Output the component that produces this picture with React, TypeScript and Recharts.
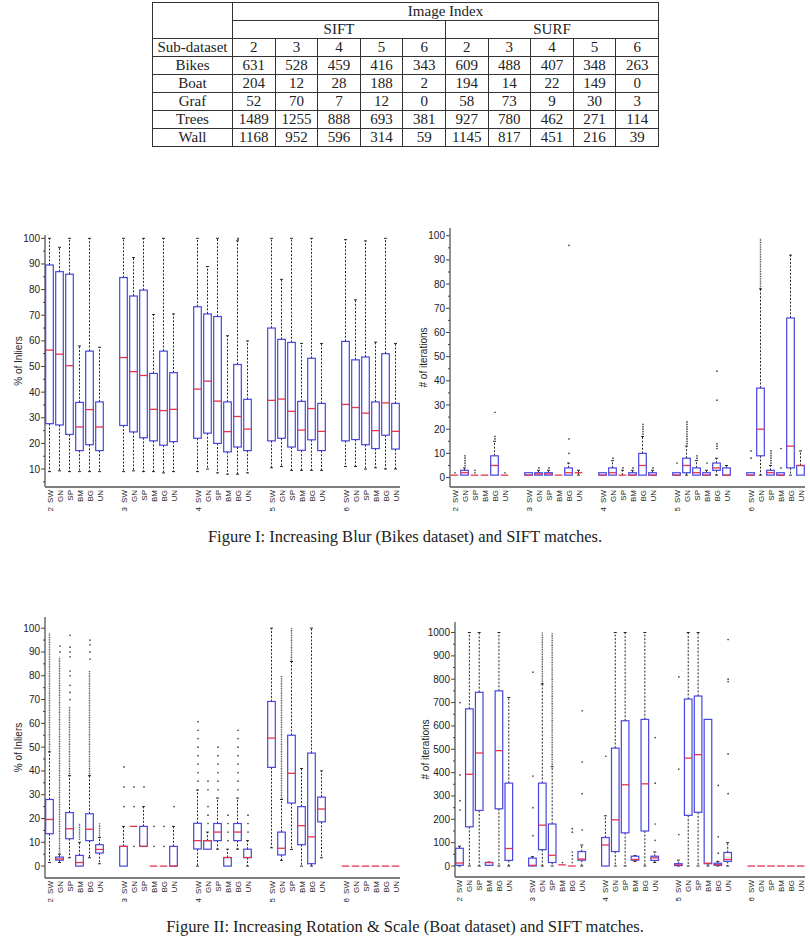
import React from 'react';
import { ComposedChart, Bar, Scatter, XAxis, YAxis, Label } from 'recharts';

const SANS = '"Liberation Sans", Arial, sans-serif';
const SERIF = '"Liberation Serif", "Times New Roman", serif';
const BLUE = '#4646e0';
const RED = '#e5344e';

// categories
const methods = ['SW', 'GN', 'SP', 'BM', 'BG', 'UN'];
const imageIndex = ['2', '3', '4', '5', '6'];

// table of matches per sub-dataset
const subDatasets = ['Bikes', 'Boat', 'Graf', 'Trees', 'Wall'];
const siftMatches = [
  [631, 528, 459, 416, 343],
  [204, 12, 28, 188, 2],
  [52, 70, 7, 12, 0],
  [1489, 1255, 888, 693, 381],
  [1168, 952, 596, 314, 59],
];
const surfMatches = [
  [609, 488, 407, 348, 263],
  [194, 14, 22, 149, 0],
  [58, 73, 9, 30, 3],
  [927, 780, 462, 271, 114],
  [1145, 817, 451, 216, 39],
];

// box stats: [whisker low, q1, median, q3, whisker high], 6 methods per image index
const blurInliers = [
  [9, 27.7, 56.4, 89.6, 100], [9.3, 27.2, 54.8, 87, 96.5], [9, 23.5, 50.3, 86, 100],
  [9, 17.2, 26.4, 36, 58], [9, 19.5, 33.2, 56, 100], [9, 17.2, 26.4, 36.2, 57.5],
  [9, 27, 53.5, 84.7, 100], [9.3, 24.5, 48, 77.5, 92.5], [9, 22.2, 46.5, 79.8, 100],
  [9, 21, 33.3, 47.3, 70.3], [8.5, 19.3, 32.8, 56, 100], [9, 20.7, 33.3, 47.6, 70.5],
  [9, 22, 41.2, 73.3, 100], [10, 24, 44.3, 70.5, 89], [8.5, 20, 36.5, 69.5, 100],
  [8, 16.7, 24.6, 36.2, 62], [8, 18.6, 30.5, 50.8, 99], [8.5, 17.2, 25.6, 37.2, 60],
  [10.5, 21, 36.8, 65, 100], [11, 22, 37.3, 60.6, 84], [9.5, 18.6, 32.5, 59.4, 100],
  [9.5, 17.3, 25.2, 36.4, 59], [9.5, 21.4, 33.6, 53.2, 100], [9.5, 17.2, 24.7, 35.6, 59],
  [11, 21, 35.2, 59.8, 99.5], [11, 21.5, 34, 52.6, 76], [10, 19.5, 31.8, 53.7, 99],
  [10.5, 18, 25, 36.2, 59.5], [10, 23.2, 35.8, 55, 100], [10, 17.8, 24.7, 35.6, 59],
];
const blurInliersOut = [[2, 4, 99.6], [2, 4, 100]];
const blurInliersDense: number[][] = [];

const blurIters = [
  [1, 1, 1, 1, 1], [1, 1, 2, 3, 4], [1, 1, 1, 1, 1], [1, 1, 1, 1, 1], [1, 1, 5, 9, 15], [1, 1, 1, 1, 1],
  [1, 1, 1, 2, 2], [1, 1, 1.5, 2, 3], [1, 1, 1.5, 2, 3], [1, 1, 1, 1, 1], [1, 1, 2, 4, 6], [1, 2, 2, 2, 3],
  [1, 1, 1, 2, 2], [1, 1, 2, 4, 7], [1, 1, 1, 1, 3], [1, 1, 1, 2, 3], [1, 1, 5, 10, 17], [1, 1, 1, 2, 3],
  [1, 1, 1, 2, 2], [1, 2, 5, 8, 13], [1, 1, 2, 4, 7], [1, 1, 1, 2, 3], [1, 3, 4, 6, 8], [1, 1, 1, 4, 5],
  [1, 1, 1, 2, 2], [1, 9, 20, 37, 78], [1, 1, 2, 3, 5], [1, 1, 1, 2, 2], [1, 4, 13, 66, 92], [1, 1, 5, 5, 11],
];
const blurItersOut = [
  [0, 0, 2], [0, 1, 5], [0, 1, 6], [0, 1, 7], [0, 1, 8], [0, 1, 9], [0, 2, 2], [0, 2, 3],
  [0, 4, 16], [0, 4, 17], [0, 4, 27], [0, 5, 2],
  [1, 1, 4], [1, 2, 4], [1, 4, 10], [1, 4, 16], [1, 4, 96],
  [2, 1, 8], [2, 2, 4], [2, 3, 4], [2, 4, 18], [2, 4, 19], [2, 4, 20], [2, 4, 21], [2, 4, 22], [2, 5, 4],
  [3, 0, 6], [3, 1, 14], [3, 1, 15], [3, 1, 16], [3, 1, 17], [3, 1, 18], [3, 1, 19], [3, 1, 20],
  [3, 1, 21], [3, 1, 22], [3, 1, 23], [3, 2, 8], [3, 2, 9], [3, 3, 6],
  [3, 4, 12], [3, 4, 13], [3, 4, 14], [3, 4, 32], [3, 4, 44],
  [4, 0, 8], [4, 0, 11], [4, 2, 6], [4, 2, 7], [4, 2, 8], [4, 2, 9], [4, 2, 10], [4, 2, 11],
  [4, 3, 4], [4, 3, 12],
];
const blurItersDense = [[4, 1, 78, 99]];

const boatInliers = [
  [1.5, 13.6, 19.6, 28, 48], [1.5, 2.5, 3, 3.8, 5], [3.5, 11.5, 15.7, 22.5, 38],
  [0, 0, 1.5, 4.5, 10], [3.5, 10.7, 15.5, 22, 38], [1, 5.5, 7, 9, 12],
  [0, 0, 8.3, 8.3, 16.7], [16.7, 16.7, 16.7, 16.7, 16.7], [8.3, 8.3, 8.3, 16.7, 25],
  [0, 0, 0, 0, 0], [0, 0, 0, 0, 0], [0, 0, 0, 8.3, 16.7],
  [0, 7.2, 10.7, 18, 32], [7.1, 7.1, 10.7, 10.7, 14.3], [7.1, 10.7, 14.3, 17.9, 28.6],
  [0, 0, 3.6, 3.6, 7.1], [7.1, 10.7, 14.3, 17.9, 28.6], [0, 3.6, 3.6, 7.1, 10.7],
  [7.7, 41.5, 53.8, 69.2, 100], [2.4, 4.7, 7.5, 14.3, 28], [7, 26.5, 39, 55, 86],
  [0, 9, 17, 25, 41], [0, 1, 12.3, 47.5, 100], [3.5, 18.6, 24, 29, 40],
  [0, 0, 0, 0, 0], [0, 0, 0, 0, 0], [0, 0, 0, 0, 0],
  [0, 0, 0, 0, 0], [0, 0, 0, 0, 0], [0, 0, 0, 0, 0],
];
const boatInliersOut = [
  [0, 1, 90], [0, 1, 92.5],
  [0, 2, 70], [0, 2, 73], [0, 2, 76], [0, 2, 80], [0, 2, 82], [0, 2, 88], [0, 2, 90], [0, 2, 92], [0, 2, 97],
  [0, 4, 87], [0, 4, 90], [0, 4, 93], [0, 4, 95],
  [1, 0, 25], [1, 0, 33.3], [1, 0, 41.7], [1, 1, 8.3], [1, 1, 25], [1, 1, 33.3], [1, 2, 33.3],
  [1, 3, 8.3], [1, 3, 16.7], [1, 4, 8.3], [1, 4, 16.7], [1, 5, 25],
  [2, 0, 35.7], [2, 0, 39.3], [2, 0, 42.9], [2, 0, 46.4], [2, 0, 50], [2, 0, 53.6], [2, 0, 57.1], [2, 0, 60.7],
  [2, 1, 17.9], [2, 1, 21.4], [2, 1, 25], [2, 1, 32.1], [2, 1, 35.7],
  [2, 2, 32.1], [2, 2, 35.7], [2, 2, 39.3], [2, 2, 42.9], [2, 2, 46.4], [2, 2, 50],
  [2, 3, 10.7], [2, 3, 14.3], [2, 3, 17.9], [2, 3, 21.4],
  [2, 4, 32.1], [2, 4, 35.7], [2, 4, 39.3], [2, 4, 42.9], [2, 4, 46.4], [2, 4, 50], [2, 4, 53.6], [2, 4, 57.1],
  [2, 5, 14.3], [2, 5, 17.9], [2, 5, 21.4],
];
// dense outlier columns: [image, method, from, to]
const boatInliersDense = [
  [0, 0, 48, 98], [0, 1, 5, 88], [0, 2, 38, 67], [0, 3, 11, 18], [0, 4, 38, 82], [0, 5, 12, 18],
  [3, 1, 28, 80], [3, 2, 86, 100],
];

const boatIters = [
  [0, 3, 13, 76, 85], [0, 168, 393, 673, 1000], [0, 238, 484, 744, 1000],
  [3, 3, 15, 15, 17], [0, 245, 494, 750, 1000], [0, 24, 75, 355, 722],
  [0, 0, 3, 34, 40], [0, 70, 175, 355, 780], [0, 15, 46, 180, 425],
  [5, 5, 5, 5, 5], [0, 0, 0, 0, 0], [0, 25, 30, 62, 90],
  [0, 0, 90, 122, 215], [0, 62, 198, 505, 1000], [0, 142, 348, 622, 1000],
  [20, 25, 28, 42, 45], [0, 150, 352, 628, 1000], [15, 24, 35, 42, 60],
  [0, 2, 5, 10, 25], [0, 217, 462, 715, 1000], [0, 230, 477, 728, 1000],
  [0, 10, 12, 628, 628], [0, 3, 6, 12, 20], [0, 20, 28, 58, 100],
  [0, 0, 0, 0, 0], [0, 0, 0, 0, 0], [0, 0, 0, 0, 0],
  [0, 0, 0, 0, 0], [0, 0, 0, 0, 0], [0, 0, 0, 0, 0],
];
const boatItersOut = [
  [0, 0, 240], [0, 0, 280], [0, 0, 390], [0, 0, 700],
  [1, 0, 130], [1, 0, 250], [1, 0, 385], [1, 0, 830], [1, 3, 15],
  [1, 4, 15], [1, 4, 30], [1, 4, 45], [1, 4, 60], [1, 4, 145], [1, 4, 160],
  [1, 5, 155], [1, 5, 310], [1, 5, 445], [1, 5, 665],
  [2, 0, 470], [2, 5, 110], [2, 5, 180], [2, 5, 355], [2, 5, 550],
  [3, 0, 135], [3, 0, 415], [3, 0, 810], [3, 4, 55], [3, 4, 125], [3, 4, 345],
  [3, 5, 310], [3, 5, 480], [3, 5, 790], [3, 5, 800], [3, 5, 970],
];
const boatItersDense = [[1, 1, 780, 1000], [1, 2, 425, 1000]];

// tick labels
const pctMajor = [0, 10, 20, 30, 40, 50, 60, 70, 80, 90, 100];
const pctMinor = [5, 15, 25, 35, 45, 55, 65, 75, 85, 95];
const iterMajor = [0, 100, 200, 300, 400, 500, 600, 700, 800, 900, 1000];
const iterMinor = [50, 150, 250, 350, 450, 550, 650, 750, 850, 950];

// x position of each box: 6 slots per image index plus a gap
const GROUP_STEP = 7.4;
const positions = imageIndex.flatMap((_, g) => methods.map((__, m) => Math.round((g * GROUP_STEP + m) * 100) / 100));

function XTick(props: any) {
  const { x, y, payload } = props;
  const k = positions.findIndex((p) => Math.abs(p - payload.value) < 1e-6);
  if (k < 0) return null;
  const m = k % 6;
  const g = Math.floor(k / 6);
  return (
    <g fontFamily={SANS} fontSize={8} fill="#222">
      <text x={x} y={y + 3} transform={`rotate(-90 ${x} ${y + 3})`} textAnchor="end" dominantBaseline="central">
        {methods[m]}
      </text>
      {m === 0 && (
        <text x={x} y={y + 20} transform={`rotate(-90 ${x} ${y + 20})`} textAnchor="end" dominantBaseline="central">
          {imageIndex[g]}
        </text>
      )}
    </g>
  );
}

function YTick(props: any) {
  const { x, y, payload, major } = props;
  const isMajor = major.includes(payload.value);
  return (
    <g>
      <line x1={x} x2={x - (isMajor ? 4 : 2)} y1={y} y2={y} stroke="#444" strokeWidth={1} />
      {isMajor && (
        <text x={x - 5} y={y} textAnchor="end" dominantBaseline="central" fontSize={10} fill="#222" fontFamily={SANS}>
          {payload.value}
        </text>
      )}
    </g>
  );
}

function BoxShape(props: any) {
  const { x, y, width, height, payload, domain } = props;
  if (!payload || !Number.isFinite(x)) return <g />;
  const top = Math.min(y, y + height);
  const bottom = Math.max(y, y + height);
  // linear map from the bar's own scaled span (which covers the y domain)
  const py = (v: number) => bottom - ((v - domain[0]) / (domain[1] - domain[0])) * (bottom - top);
  const cx = x + width / 2;
  const hw = 3.8;
  const { lo, q1, med, q3, hi, dense } = payload;
  return (
    <g>
      {dense && (
        <line x1={cx} x2={cx} y1={py(dense[0])} y2={py(dense[1])} stroke="#555" strokeWidth={1.4} strokeDasharray="1 0.7" />
      )}
      {hi > q3 && (
        <g stroke="#111" strokeWidth={0.9}>
          <line x1={cx} x2={cx} y1={py(q3)} y2={py(hi)} strokeDasharray="2 1.6" />
          <line x1={cx - 1.5} x2={cx + 1.5} y1={py(hi)} y2={py(hi)} />
        </g>
      )}
      {lo < q1 && (
        <g stroke="#111" strokeWidth={0.9}>
          <line x1={cx} x2={cx} y1={py(q1)} y2={py(lo)} strokeDasharray="2 1.6" />
          <line x1={cx - 1.5} x2={cx + 1.5} y1={py(lo)} y2={py(lo)} />
        </g>
      )}
      {q3 > q1 && (
        <rect x={cx - hw} y={py(q3)} width={hw * 2} height={py(q1) - py(q3)} fill="none" stroke={BLUE} strokeWidth={1.2} />
      )}
      <line x1={cx - hw} x2={cx + hw} y1={py(med)} y2={py(med)} stroke={RED} strokeWidth={1.3} />
    </g>
  );
}

const OutlierDot = (p: any) => <circle cx={p.cx} cy={p.cy} r={0.85} fill="#444" />;

interface BoxChartProps {
  left: number;
  top: number;
  width: number;
  height: number;
  marginTop: number;
  axisWidth: number;
  labelOffset: number;
  yDomain: number[];
  yMajor: number[];
  yMinor: number[];
  yLabel: string;
  stats: number[][];
  outliers: number[][];
  dense: number[][];
}

function BoxChart(c: BoxChartProps) {
  const rows = c.stats.map((s, k) => {
    const g = Math.floor(k / 6);
    const m = k % 6;
    const d = c.dense.find((r) => r[0] === g && r[1] === m);
    return { x: positions[k], span: c.yDomain, lo: s[0], q1: s[1], med: s[2], q3: s[3], hi: s[4], dense: d ? [d[2], d[3]] : null };
  });
  const points = c.outliers.map((o) => ({ x: positions[o[0] * 6 + o[1]], y: o[2] }));
  const yTicks = [...c.yMajor, ...c.yMinor].filter((t) => t >= c.yDomain[0] && t <= c.yDomain[1]).sort((a, b) => a - b);
  return (
    <div style={{ position: 'absolute', left: c.left, top: c.top }}>
      <ComposedChart width={c.width} height={c.height} data={rows} margin={{ top: c.marginTop, right: 5, bottom: 0, left: 0 }}>
        <XAxis
          type="number"
          dataKey="x"
          domain={[-0.5, 35]}
          allowDataOverflow
          ticks={positions}
          interval={0}
          tickSize={0}
          tickMargin={0}
          height={40}
          tick={<XTick />}
          axisLine={{ stroke: '#555', strokeWidth: 1.3 }}
        />
        <YAxis
          type="number"
          domain={c.yDomain}
          allowDataOverflow
          ticks={yTicks}
          interval={0}
          tickSize={0}
          tickMargin={0}
          width={c.axisWidth}
          tick={<YTick major={c.yMajor} />}
          axisLine={{ stroke: '#555', strokeWidth: 1.3 }}
        >
          <Label
            value={c.yLabel}
            angle={-90}
            position="insideLeft"
            offset={c.labelOffset}
            style={{ textAnchor: 'middle', fontSize: 10, fill: '#222', fontFamily: SANS }}
          />
        </YAxis>
        <Bar dataKey="span" barSize={7} isAnimationActive={false} shape={(p: any) => <BoxShape {...p} domain={c.yDomain} />} />
        <Scatter data={points} dataKey="y" isAnimationActive={false} shape={OutlierDot} />
      </ComposedChart>
    </div>
  );
}

const cell: React.CSSProperties = {
  border: '1px solid #333',
  padding: 0,
  height: 17,
  lineHeight: '17px',
  textAlign: 'center',
};

function MatchTable() {
  return (
    <table
      style={{
        position: 'absolute',
        left: 152,
        top: 2,
        width: 506,
        borderCollapse: 'collapse',
        fontFamily: SERIF,
        fontSize: 15,
        color: '#222',
        tableLayout: 'fixed',
      }}
    >
      <colgroup>
        <col style={{ width: 80 }} />
        {imageIndex.concat(imageIndex).map((_, i) => (
          <col key={i} style={{ width: 42.6 }} />
        ))}
      </colgroup>
      <tbody>
        <tr>
          <td style={cell} rowSpan={2}></td>
          <td style={cell} colSpan={10}>Image Index</td>
        </tr>
        <tr>
          <td style={cell} colSpan={5}>SIFT</td>
          <td style={cell} colSpan={5}>SURF</td>
        </tr>
        <tr>
          <td style={cell}>Sub-dataset</td>
          {imageIndex.concat(imageIndex).map((v, i) => (
            <td key={i} style={cell}>{v}</td>
          ))}
        </tr>
        {subDatasets.map((name, r) => (
          <tr key={name}>
            <td style={cell}>{name}</td>
            {siftMatches[r].concat(surfMatches[r]).map((v, i) => (
              <td key={i} style={cell}>{v}</td>
            ))}
          </tr>
        ))}
      </tbody>
    </table>
  );
}

const caption: React.CSSProperties = {
  position: 'absolute',
  left: 0,
  width: 810,
  textAlign: 'center',
  fontFamily: SERIF,
  fontSize: 16.5,
  lineHeight: '18px',
  color: '#222',
};

export default function App() {
  return (
    <div style={{ position: 'absolute', left: 0, top: 0, width: 810, height: 948, background: '#fff', overflow: 'hidden' }}>
      <MatchTable />
      <BoxChart
        left={0} top={225} width={405} height={302} marginTop={10} axisWidth={45} labelOffset={18}
        yDomain={[3, 101.3]} yMajor={pctMajor} yMinor={pctMinor} yLabel="% of Inliers"
        stats={blurInliers} outliers={blurInliersOut} dense={blurInliersDense}
      />
      <BoxChart
        left={405} top={225} width={405} height={302} marginTop={3} axisWidth={45} labelOffset={18}
        yDomain={[-3.9, 103.2]} yMajor={pctMajor} yMinor={pctMinor} yLabel="# of iterations"
        stats={blurIters} outliers={blurItersOut} dense={blurItersDense}
      />
      <div style={{ ...caption, top: 528 }}>Figure I: Increasing Blur (Bikes dataset) and SIFT matches.</div>
      <BoxChart
        left={0} top={607} width={405} height={311} marginTop={10} axisWidth={45} labelOffset={18}
        yDomain={[-5, 104.7]} yMajor={pctMajor} yMinor={pctMinor} yLabel="% of Inliers"
        stats={boatInliers} outliers={boatInliersOut} dense={boatInliersDense}
      />
      <BoxChart
        left={405} top={607} width={405} height={310} marginTop={15} axisWidth={50} labelOffset={20}
        yDomain={[-47, 1045]} yMajor={iterMajor} yMinor={iterMinor} yLabel="# of iterations"
        stats={boatIters} outliers={boatItersOut} dense={boatItersDense}
      />
      <div style={{ ...caption, top: 918 }}>Figure II: Increasing Rotation &amp; Scale (Boat dataset) and SIFT matches.</div>
    </div>
  );
}
